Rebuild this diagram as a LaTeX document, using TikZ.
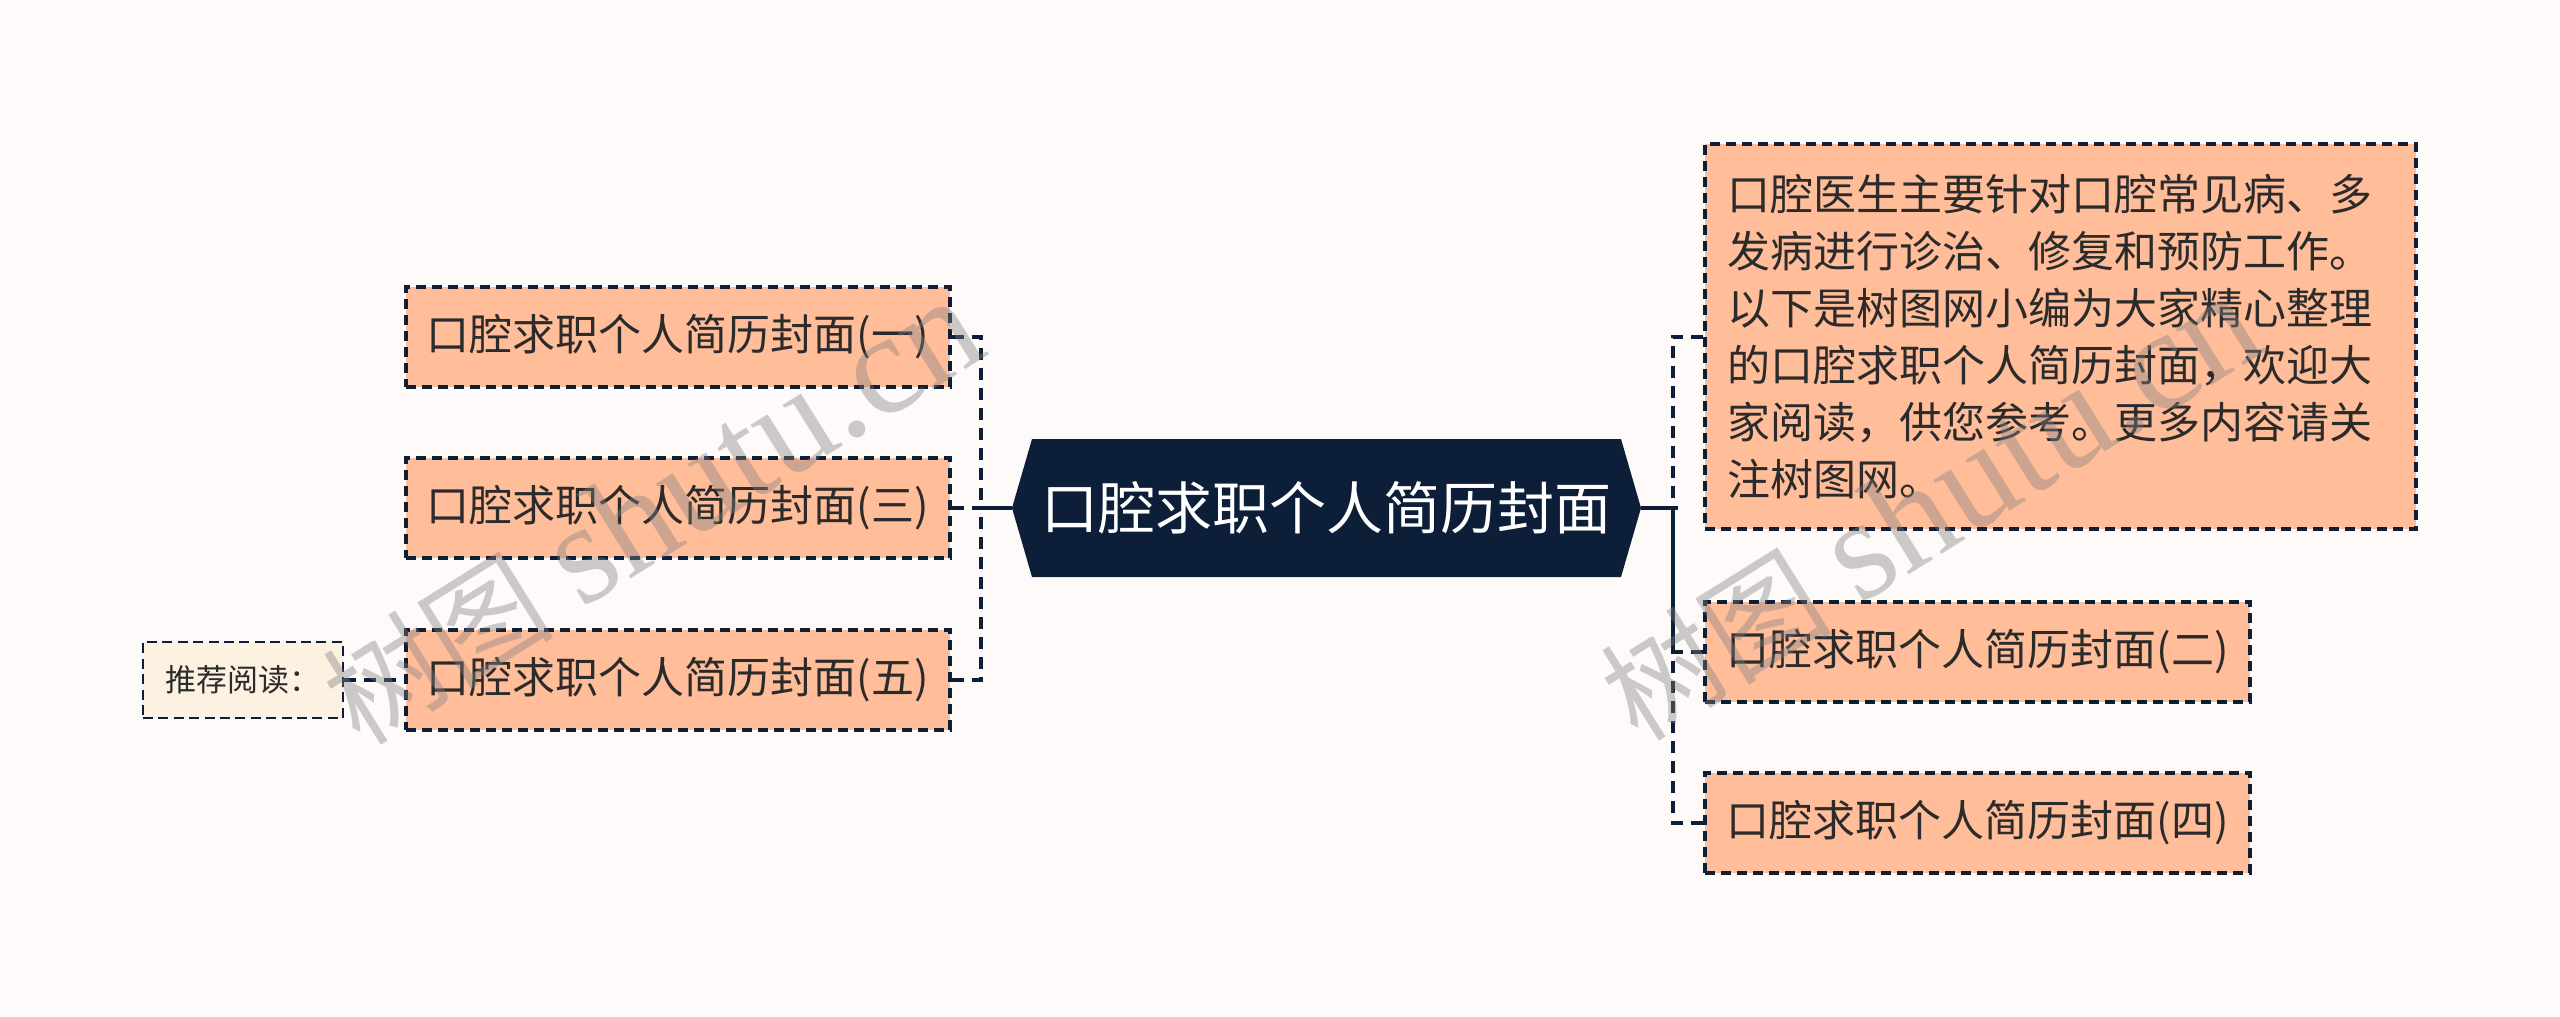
\documentclass[tikz,border=0pt]{standalone}
\usepackage{fontspec}
\setmainfont{Noto Sans CJK SC}
\newfontfamily\wmserif{Liberation Serif}
\usetikzlibrary{calc}
\definecolor{bgc}{HTML}{FDFAF9}
\definecolor{peach}{HTML}{FFBD99}
\definecolor{cream}{HTML}{FDF1E1}
\definecolor{navy}{HTML}{0C1E38}
\definecolor{ink}{HTML}{2B2B2B}
\tikzset{
  leaf/.style={draw=navy, line width=1.6pt, dash pattern=on 5pt off 3pt,
    fill=peach, text=ink, font=\fontsize{21.5pt}{28.5pt}\selectfont,
    minimum width=272pt, minimum height=50pt, inner sep=0pt},
  recbox/.style={draw=navy, line width=1.3pt, dash pattern=on 5pt off 2.7pt,
    fill=cream, text=ink, font=\fontsize{15.5pt}{18pt}\selectfont,
    minimum width=100pt, minimum height=38pt, inner sep=0pt},
  centre/.style={text=white, font=\fontsize{28.5pt}{32pt}\selectfont,
    minimum width=314.5pt, minimum height=69pt, inner sep=0pt},
  link/.style={draw=navy, line width=2pt, dash pattern=on 6pt off 4pt},
  trunk/.style={draw=navy, line width=2pt},
  wmark/.style={text=black!50, text opacity=0.4, rotate=32, inner sep=0pt}
}
\begin{document}
\begin{tikzpicture}[x=0.5pt,y=-0.5pt]
\fill[bgc] (0,0) rectangle (2560,1017);
\useasboundingbox (0,0) rectangle (2560,1017);

% central hexagon
\fill[navy] (1012,508) -- (1032,439) -- (1621,439) -- (1641,508) -- (1621,577) -- (1032,577) -- cycle;
\node[centre] (c) at (1326.5,508) {口腔求职个人简历封面};

% junctions
\coordinate (jl) at (981,508);
\coordinate (jr) at (1673,508);

% left nodes
\node[leaf] (b1) at (678,337) {口腔求职个人简历封面(一)};
\node[leaf] (b3) at (678,508) {口腔求职个人简历封面(三)};
\node[leaf] (b5) at (678,680) {口腔求职个人简历封面(五)};
\node[recbox] (rec) at (243,680) {推荐阅读：};

% right nodes
\node[leaf, minimum width=355.5pt, minimum height=192.5pt, align=left,
      text width=333.5pt] (desc) at (2060.5,336.5)
  {口腔医生主要针对口腔常见病、多\\发病进行诊治、修复和预防工作。\\以下是树图网小编为大家精心整理\\的口腔求职个人简历封面，欢迎大\\家阅读，供您参考。更多内容请关\\注树图网。};
\node[leaf, minimum width=272.5pt] (b2) at (1977.5,652) {口腔求职个人简历封面(二)};
\node[leaf, minimum width=272.5pt] (b4) at (1977.5,823) {口腔求职个人简历封面(四)};

% connectors
\draw[trunk] (c.west) -- ($(jl)+(-7,0)$);
\draw[trunk] (c.east) -- ($(jr)+(5,0)$);
\draw[link] (b1.east) -| (jl);
\draw[link] (b3.east) -- (jl);
\draw[link] (b5.east) -| (jl);
\draw[link] (desc.west) -| (jr);
\draw[link] (b2.west) -| (jr);
\draw[link] (b4.west) -| (jr);
\draw[link] (rec.east) -- (b5.west);

% watermarks
\node[wmark] (w1) at (652,512) {\fontsize{58pt}{60pt}\selectfont 树图\hspace{14pt}{\fontsize{72pt}{74pt}\wmserif shutu.cn}};
\node[wmark] (w2) at (1930,508) {\fontsize{58pt}{60pt}\selectfont 树图\hspace{14pt}{\fontsize{72pt}{74pt}\wmserif shutu.cn}};
\end{tikzpicture}
\end{document}
